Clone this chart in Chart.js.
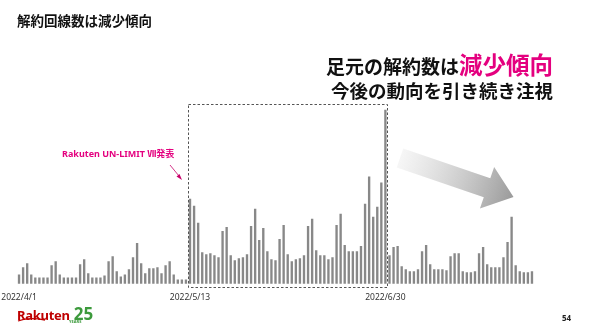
<!DOCTYPE html>
<html>
<head>
<meta charset="utf-8">
<script src="https://cdn.jsdelivr.net/npm/chart.js@4.4.0/dist/chart.umd.min.js"></script>
<style>
  html, body { margin: 0; padding: 0; background: #fff; }
  #wrap { position: relative; width: 590px; height: 329px; overflow: hidden; font-family: "Noto Sans CJK JP", "Noto Sans", sans-serif; }
  #chart { position: absolute; left: 0; top: 0; }
  .txt { position: absolute; white-space: nowrap; font-weight: bold; }
  #title { left: 17px; top: 10px; font-size: 13.5px; color: #111; }
  #head1 { left: 326px; top: 47px; font-size: 19px; color: #111; }
  #head1 span { color: #e4007f; font-size: 23.5px; }
  #head2 { left: 331px; top: 77px; font-size: 18.5px; color: #111; }
  #note { left: 62px; top: 147px; font-size: 9px; color: #e4007f; font-family: "Noto Sans", "Noto Sans CJK JP", sans-serif; }
  #logo { left: 17px; top: 302px; font-family: "Noto Sans", sans-serif; }
  #page { left: 562px; top: 312px; font-size: 8px; color: #222; font-family: "Noto Sans", sans-serif; }
</style>
</head>
<body>
<div id="wrap">
  <canvas id="chart" width="590" height="329"></canvas>
  <div class="txt" id="title">解約回線数は減少傾向</div>
  <div class="txt" id="head1">足元の解約数は<span>減少傾向</span></div>
  <div class="txt" id="head2">今後の動向を引き続き注視</div>
  <div class="txt" id="note">Rakuten UN-LIMIT Ⅶ発表</div>
  <div class="txt" id="logo"><span style="color:#bf0000;font-size:13px;letter-spacing:-0.3px;">Rakuten</span> <span style="color:#3c9a3c;font-size:17px;">25</span><span style="position:absolute;left:52px;top:17px;font-size:4px;color:#3c9a3c;">YEARS</span>
    <svg style="position:absolute;left:0;top:15px" width="30" height="6"><path d="M1 4 Q 12 0 28 3" stroke="#bf0000" stroke-width="1.3" fill="none"/></svg></div>
  <div class="txt" id="page">54</div>
</div>
<script>
// 解約数 (日次) 2022/4/1 - 2022/8/5
const valuesApril = [9, 16, 20, 9, 6, 6, 6, 6, 18, 22, 9, 6, 6, 6, 6, 19, 24, 10, 6, 6, 6, 8, 22, 27, 12, 7, 9, 14, 26, 40, 20, 10, 15, 15, 16, 10, 18, 22, 9, 4, 4, 4];
const valuesBox = [84, 77, 60, 31, 29, 30, 28, 26, 52, 56, 28, 23, 25, 26, 29, 57, 74, 43, 55, 32, 24, 23, 44, 58, 29, 22, 24, 25, 28, 57, 64, 33, 28, 28, 24, 26, 58, 69, 38, 32, 32, 32, 37, 79, 106, 66, 76, 100, 172];
const valuesJuly = [28, 36, 37, 17, 14, 12, 12, 14, 32, 38, 19, 14, 14, 14, 13, 27, 30, 30, 12, 11, 11, 12, 30, 36, 19, 16, 16, 16, 26, 41, 66, 18, 12, 11, 11, 12];
const tickLabels = ["2022/4/1", "2022/5/13", "2022/6/30"];
const boxStart = "2022/5/13";
const boxEnd = "2022/6/30";

const values = valuesApril.concat(valuesBox, valuesJuly);

// 日付ラベル
const labels = [];
const d = new Date(2022, 3, 1);
for (let i = 0; i < values.length; i++) {
  labels.push(d.getFullYear() + "/" + (d.getMonth() + 1) + "/" + d.getDate());
  d.setDate(d.getDate() + 1);
}

// 点線の枠、注記の矢印、グレーの矢印
const decorations = {
  id: "decorations",
  afterDatasetsDraw(chart) {
    const ctx = chart.ctx;
    const x = chart.scales.x;
    const y = chart.scales.y;

    const x1 = x.getPixelForValue(labels.indexOf(boxStart)) - 2;
    const x2 = x.getPixelForValue(labels.indexOf(boxEnd)) + 2;
    const y1 = y.getPixelForValue(178);
    const y2 = y.getPixelForValue(0) + 3;
    ctx.save();
    ctx.strokeStyle = "#555";
    ctx.lineWidth = 1;
    ctx.setLineDash([2.5, 2]);
    ctx.strokeRect(Math.round(x1) + 0.5, Math.round(y1) + 0.5, Math.round(x2 - x1), Math.round(y2 - y1));
    ctx.restore();

    // 注記の矢印
    ctx.save();
    ctx.strokeStyle = "#c8006a";
    ctx.fillStyle = "#c8006a";
    ctx.lineWidth = 0.8;
    ctx.beginPath();
    ctx.moveTo(170, 165);
    ctx.lineTo(179, 176);
    ctx.stroke();
    ctx.beginPath();
    ctx.moveTo(182, 180);
    ctx.lineTo(176.5, 176.5);
    ctx.lineTo(179.5, 174);
    ctx.closePath();
    ctx.fill();
    ctx.restore();

    // グレーの矢印
    ctx.save();
    ctx.translate(400, 158);
    ctx.rotate(0.33);
    const g = ctx.createLinearGradient(0, 0, 120, 0);
    g.addColorStop(0, "rgba(240,240,240,0.6)");
    g.addColorStop(1, "#9a9a9a");
    ctx.fillStyle = g;
    ctx.beginPath();
    ctx.moveTo(0, -10);
    ctx.lineTo(92, -10);
    ctx.lineTo(92, -22);
    ctx.lineTo(120, 0);
    ctx.lineTo(92, 22);
    ctx.lineTo(92, 10);
    ctx.lineTo(0, 10);
    ctx.closePath();
    ctx.fill();
    ctx.restore();
  }
};

new Chart(document.getElementById("chart"), {
  type: "bar",
  data: {
    labels: labels,
    datasets: [{
      data: values,
      backgroundColor: "#888888",
      barThickness: 1.7
    }]
  },
  options: {
    responsive: false,
    animation: false,
    layout: { padding: { left: 17, right: 56, top: 102, bottom: 17 } },
    plugins: { legend: { display: false }, tooltip: { enabled: false } },
    scales: {
      x: {
        grid: { display: false, drawTicks: false },
        border: { display: false },
        afterFit: function (scale) {
          scale.paddingLeft = 0;
          scale.paddingRight = 0;
        },
        ticks: {
          autoSkip: false,
          maxRotation: 0,
          padding: 9,
          color: "#333",
          font: { family: "Noto Sans", size: 8.5 },
          callback: function (v, i) {
            return tickLabels.includes(labels[i]) ? labels[i] : "";
          }
        }
      },
      y: { display: false, min: 0, max: 180 }
    }
  },
  plugins: [decorations]
});
</script>
</body>
</html>
